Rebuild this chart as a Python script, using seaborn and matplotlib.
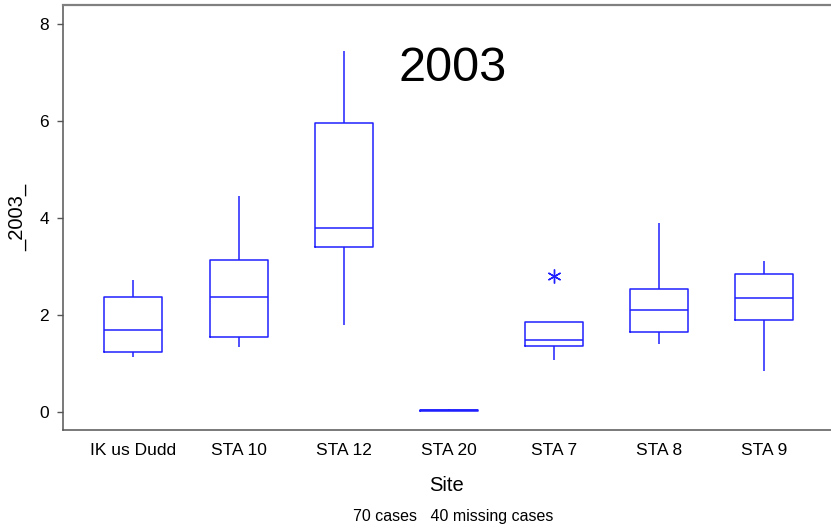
import pandas as pd
import seaborn as sns
import matplotlib.pyplot as plt

# values per site (5 pts each -> whisker, q1, median, q3, whisker)
sites = ['IK us Dudd', 'STA 10', 'STA 12', 'STA 20', 'STA 7', 'STA 8', 'STA 9']
ik_dudd = [1.13, 1.23, 1.68, 2.36, 2.72]
sta10 = [1.33, 1.54, 2.36, 3.14, 4.45]
sta12 = [1.78, 3.39, 3.78, 5.95, 7.44]
sta20 = [0.01, 0.02, 0.03, 0.04, 0.05]
sta7 = [1.06, 1.35, 1.48, 1.86, 2.79]
sta8 = [1.40, 1.64, 2.10, 2.54, 3.89]
sta9 = [0.83, 1.89, 2.35, 2.85, 3.10]

vals = [ik_dudd, sta10, sta12, sta20, sta7, sta8, sta9]
df = pd.DataFrame({'Site': [s for s, v in zip(sites, vals) for _ in v],
                   '_2003_': [x for v in vals for x in v]})

sns.set_style('white')
plt.rcParams['font.family'] = ['Liberation Sans', 'DejaVu Sans']
plt.rcParams['text.color'] = 'black'
plt.rcParams['axes.labelcolor'] = 'black'
plt.rcParams['xtick.color'] = 'black'
plt.rcParams['ytick.color'] = 'black'

fig = plt.figure(figsize=(8.31, 5.28), dpi=100)
ax = fig.add_axes([63/831, 1-430/528, 1-63/831, (430-5)/528])

blue = '#2020ff'
sns.boxplot(data=df, x='Site', y='_2003_', order=sites, ax=ax, fill=False,
            color=blue, linecolor=blue, width=0.552, linewidth=1.1,
            showcaps=False, whis=1.5,
            flierprops=dict(marker=(6, 2, 0), markersize=10, markeredgecolor=blue,
                            markeredgewidth=1.0))

ax.set_xlim(-0.671, 6.64)
ax.set_ylim(-0.377, 8.39)
ax.set_yticks([0, 2, 4, 6, 8])

ax.spines['right'].set_visible(False)
ax.spines['top'].set_color('#808080')
ax.spines['top'].set_linewidth(1.6)
for side in ['left', 'bottom']:
    ax.spines[side].set_color('#555555')
    ax.spines[side].set_linewidth(1.1)

ax.tick_params(axis='y', left=True, length=4, width=1, color='#555555',
               labelcolor='black', labelsize=12.5, pad=6)
ax.tick_params(axis='x', bottom=False, labelcolor='black', labelsize=12.5, pad=6)
ax.set_xlabel('Site', fontsize=14.5, labelpad=13)
ax.set_ylabel('_2003_', fontsize=14.5, labelpad=9)

ax.text(3.04, 7.08, '2003', fontsize=35, ha='center', va='center')
fig.text(453/831, 1-517/528, '70 cases   40 missing cases', fontsize=11.5, ha='center', va='center')

plt.savefig('out.png', dpi=100)
